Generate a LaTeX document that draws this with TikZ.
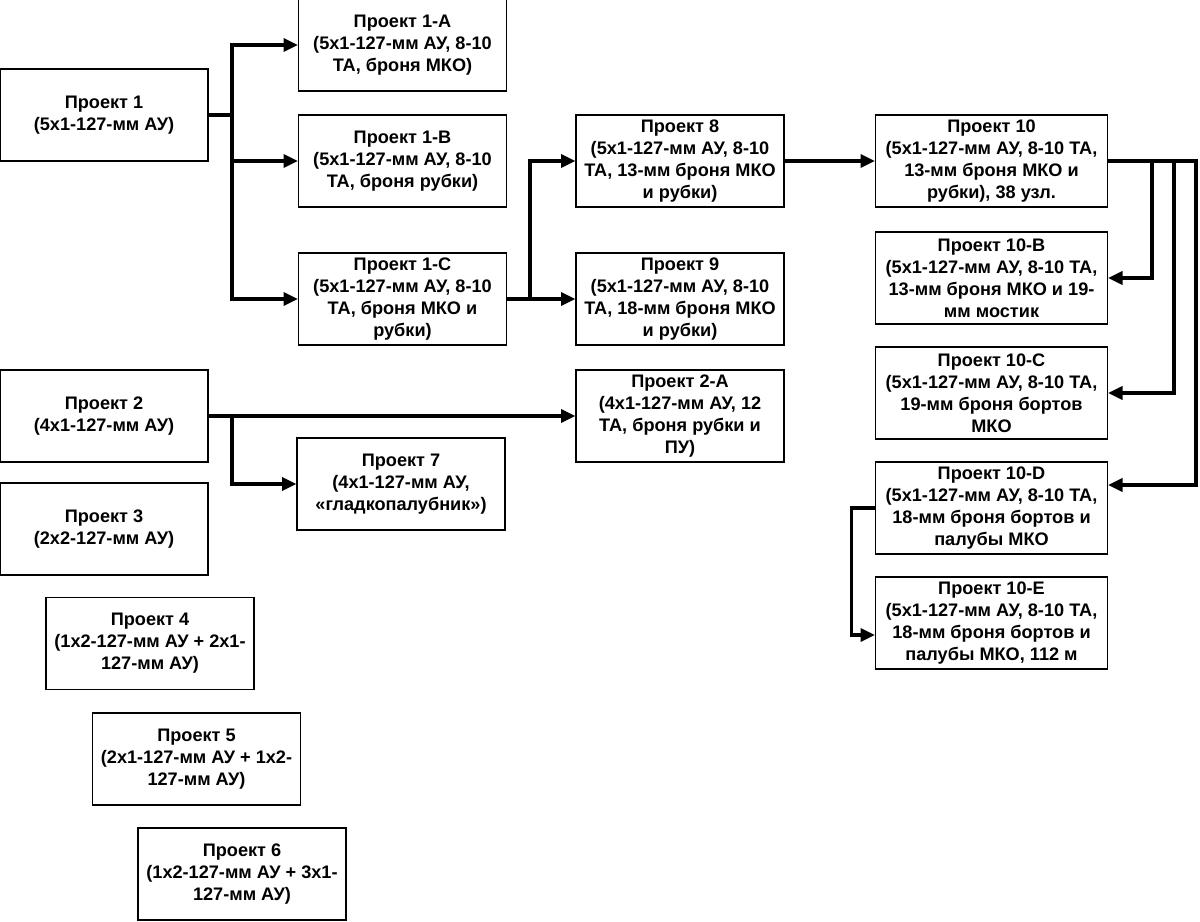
\documentclass[tikz,border=0pt]{standalone}
\usepackage{fontspec}
\setmainfont{Liberation Sans}
\usetikzlibrary{arrows.meta}

\tikzset{
  box/.style={draw, line width=0.8pt, minimum width=5.2cm, minimum height=2.3cm,
    inner sep=0pt, align=center, font=\fontsize{12.9}{15.6}\selectfont\bfseries},
  wbox/.style={box, minimum width=5.8cm},
  arr/.style={line width=2.2pt, -{Triangle[length=0.36cm,width=0.33cm]}},
  link/.style={line width=2.2pt}
}

\begin{document}
\begin{tikzpicture}[x=0.025cm, y=-0.025cm]
    \useasboundingbox (0,0) rectangle (1200,921);

    % projects, first branch
    \node[box] (p1)  at (104,115)   {Проект 1\\(5x1-127-мм АУ)};
    \node[box] (p1a) at (402.5,45)  {Проект 1-A\\(5x1-127-мм АУ, 8-10\\ТА, броня МКО)};
    \node[box] (p1b) at (402.5,161) {Проект 1-B\\(5x1-127-мм АУ, 8-10\\ТА, броня рубки)};
    \node[box] (p1c) at (402.5,299) {Проект 1-C\\(5x1-127-мм АУ, 8-10\\ТА, броня МКО и\\рубки)};
    \node[box] (p8)  at (680,161)   {Проект 8\\(5x1-127-мм АУ, 8-10\\ТА, 13-мм броня МКО\\и рубки)};
    \node[box] (p9)  at (680,299)   {Проект 9\\(5x1-127-мм АУ, 8-10\\ТА, 18-мм броня МКО\\и рубки)};

    \node[wbox] (p10)  at (991.5,161) {Проект 10\\(5x1-127-мм АУ, 8-10 ТА,\\13-мм броня МКО и\\рубки), 38 узл.};
    \node[wbox] (p10b) at (991.5,278) {Проект 10-B\\(5x1-127-мм АУ, 8-10 ТА,\\13-мм броня МКО и 19-\\мм мостик};
    \node[wbox] (p10c) at (991.5,393) {Проект 10-C\\(5x1-127-мм АУ, 8-10 ТА,\\19-мм броня бортов\\МКО};
    \node[wbox] (p10d) at (991.5,508) {Проект 10-D\\(5x1-127-мм АУ, 8-10 ТА,\\18-мм броня бортов и\\палубы МКО};
    \node[wbox] (p10e) at (991.5,623) {Проект 10-E\\(5x1-127-мм АУ, 8-10 ТА,\\18-мм броня бортов и\\палубы МКО, 112 м};

    % projects, second branch and the rest
    \node[box] (p2)  at (104,416)   {Проект 2\\(4x1-127-мм АУ)};
    \node[box] (p2a) at (680,416)   {Проект 2-A\\(4x1-127-мм АУ, 12\\ТА, броня рубки и\\ПУ)};
    \node[box] (p7)  at (401,484)   {Проект 7\\(4x1-127-мм АУ,\\«гладкопалубник»)};
    \node[box] (p3)  at (104,529)   {Проект 3\\(2x2-127-мм АУ)};
    \node[box] (p4)  at (150,643.5) {Проект 4\\(1x2-127-мм АУ + 2x1-\\127-мм АУ)};
    \node[box] (p5)  at (196.5,759) {Проект 5\\(2x1-127-мм АУ + 1x2-\\127-мм АУ)};
    \node[box] (p6)  at (242,874)   {Проект 6\\(1x2-127-мм АУ + 3x1-\\127-мм АУ)};

    % junctions
    \coordinate (j1) at (232,0);
    \coordinate (j2) at (530,0);
    \coordinate (j3) at (1152,0);
    \coordinate (j4) at (1174,0);
    \coordinate (j5) at (1196,0);

    \foreach \t in {p1a,p1b,p1c}
        \draw[arr] (p1.east) -- (j1 |- p1.east) |- (\t.west);
    \foreach \t in {p8,p9}
        \draw[arr] (p1c.east) -- (j2 |- p1c.east) |- (\t.west);
    \draw[arr] (p8.east) -- (p10.west);

    \draw[arr] (p10.east) -- (j3 |- p10.east) |- (p10b.east);
    \draw[arr] (p10.east) -- (j4 |- p10.east) |- (p10c.east);
    \draw[arr] (p10.east) -- (j5 |- p10.east) |- ([yshift=0.575cm]p10d.east);
    \draw[arr] (p10d.west) -- ++(-23,0) |- ([yshift=-0.3cm]p10e.west);

    \draw[arr] (p2.east) -- (p2a.west);
    \draw[arr] (p2.east) -- (j1 |- p2.east) |- (p7.west);
\end{tikzpicture}
\end{document}
